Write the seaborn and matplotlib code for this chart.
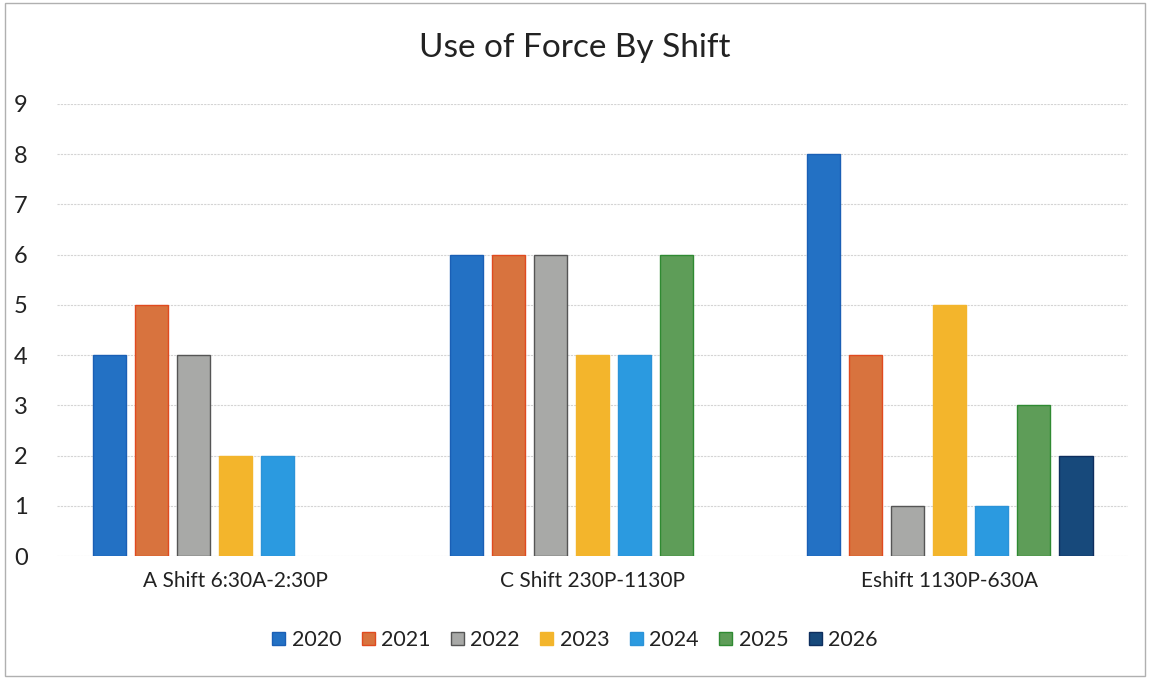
import matplotlib
matplotlib.use("Agg")
import matplotlib.pyplot as plt
import matplotlib.patches as mpatches
import seaborn as sns
import pandas as pd

shifts = ["A Shift 6:30A-2:30P", "C Shift 230P-1130P", "Eshift 1130P-630A"]
years = ["2020", "2021", "2022", "2023", "2024", "2025", "2026"]

# counts per year, one value per shift
y2020 = [4, 6, 8]
y2021 = [5, 6, 4]
y2022 = [4, 6, 1]
y2023 = [2, 4, 5]
y2024 = [2, 4, 1]
y2025 = [0, 6, 3]
y2026 = [0, 0, 2]

fills = ["#2371c4", "#d8733e", "#a8a9a7", "#f3b52c", "#2b9ae0", "#5e9d58", "#17497b"]
edges = ["#1a5fb5", "#e04a1f", "#555555", "#f3b52c", "#2b93d8", "#2f8a32", "#0e2e5e"]

series = [y2020, y2021, y2022, y2023, y2024, y2025, y2026]
rows = []
for yr, vals in zip(years, series):
    for sh, v in zip(shifts, vals):
        rows.append({"shift": sh, "year": yr, "count": v})
df = pd.DataFrame(rows)
df = df[df["count"] > 0]

sns.set_style("white")
plt.rcParams["font.family"] = ["Lato", "DejaVu Sans"]

fig = plt.figure(figsize=(11.5, 6.79), dpi=100)
ax = fig.add_axes([0.0496, 0.181, 0.9314, 0.666])

sns.barplot(data=df, x="shift", y="count", hue="year", order=shifts,
            hue_order=years, palette=fills, width=0.824, gap=0.2,
            saturation=1, ax=ax, legend=False)

for cont, ec in zip(ax.containers, [edges[years.index(y)] for y in years if y in set(df["year"])]):
    for bar in cont:
        bar.set_edgecolor(ec)
        bar.set_linewidth(1.0)

ax.set_ylim(0, 9)
ax.set_yticks(range(10))
ax.set_xlim(-0.5, 2.5)
ax.grid(axis="y", color="#d4d4d4", linewidth=0.8, linestyle=(0, (2, 1)))
ax.set_axisbelow(True)
for s in ax.spines.values():
    s.set_visible(False)
ax.tick_params(axis="y", length=0, labelsize=17, pad=21, labelcolor="#222222")
ax.tick_params(axis="x", length=0, labelsize=15, pad=11, labelcolor="#222222")
ax.set_xlabel("")
ax.set_ylabel("")

fig.text(0.5, 1 - 48 / 679, "Use of Force By Shift", ha="center", va="center",
         fontsize=24, color="#222222")

handles = [mpatches.Patch(facecolor=fills[i], edgecolor=edges[i], label=years[i])
           for i in range(len(years))]
fig.legend(handles=handles, loc="center", bbox_to_anchor=(0.5, 1 - 640 / 679),
           ncol=7, frameon=False, fontsize=15.5, handlelength=0.6, handleheight=0.6,
           handletextpad=0.3, columnspacing=0.95, labelcolor="#222222")

fig.add_artist(mpatches.Rectangle((0.004, 0.004), 0.992, 0.992, transform=fig.transFigure,
                                  fill=False, edgecolor="#b0b0b0", linewidth=1))

fig.savefig("out.png", dpi=100, facecolor="white")
